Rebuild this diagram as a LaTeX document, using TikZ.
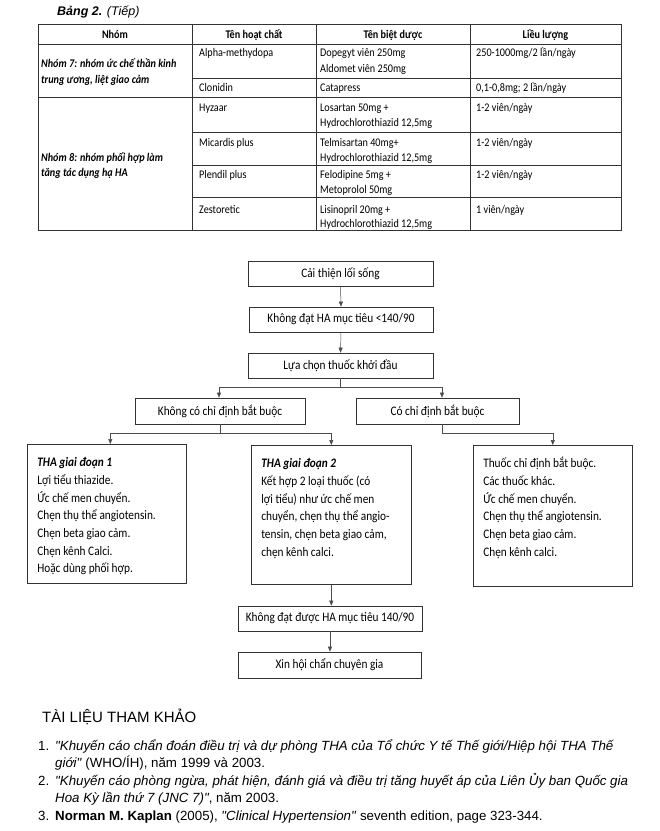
\documentclass[tikz,border=0pt]{standalone}
\usepackage{fontspec}
\setmainfont{Carlito}[FakeStretch=0.87]
\newfontfamily\refsfont{Liberation Sans}
\usetikzlibrary{arrows.meta,positioning}

\tikzset{
  tabtext/.style={anchor=base west,inner sep=0pt,font=\fontsize{11.7}{12}\selectfont},
  tabhead/.style={anchor=base,inner sep=0pt,font=\bfseries\fontsize{11.7}{12}\selectfont},
  tabgroup/.style={tabtext,font=\bfseries\itshape\fontsize{11.7}{12}\selectfont},
  tabrule/.style={draw=black!80,line width=0.7pt},
  flowbox/.style={draw=black!80,line width=0.6pt,inner sep=0pt,minimum height=25pt,font=\fontsize{13}{14}\selectfont},
  listbox/.style={draw=black!80,line width=0.6pt,anchor=north west,inner xsep=10pt,inner ysep=0pt,font=\fontsize{13}{17.7}\selectfont},
  conn/.style={draw=black!70,line width=0.5pt},
  arr/.style={conn,-{Triangle[length=5pt,width=4pt]}},
  reftext/.style={anchor=base west,inner sep=0pt,font=\refsfont\fontsize{13.3}{15}\selectfont},
}

\begin{document}
\begin{tikzpicture}[x=1pt,y=-1pt]
\useasboundingbox[fill=white] (0,0) rectangle (660,831);
% title
\node[reftext,font=\refsfont\fontsize{12.5}{15}\selectfont] (title) at (57,15.5) {\textbf{\textit{Bảng 2.}} \textit{(Tiếp)}};
% table
\draw[tabrule] (38,24) rectangle (621,230);
\draw[tabrule] (38,44) -- (621,44);
\draw[tabrule] (38,97) -- (621,97);
\draw[tabrule] (192,78) -- (621,78);
\draw[tabrule] (192,132) -- (621,132);
\draw[tabrule] (192,165) -- (621,165);
\draw[tabrule] (192,197) -- (621,197);
\draw[tabrule] (192,24) -- (192,230);
\draw[tabrule] (316,24) -- (316,230);
\draw[tabrule] (470,24) -- (470,230);
% header
\node[tabhead] (h1) at (115,38) {Nhóm};
\node[tabhead] (h2) at (254,38) {Tên hoạt chất};
\node[tabhead] (h3) at (393,38) {Tên biệt dược};
\node[tabhead] (h4) at (545.5,38) {Liều lượng};
% group 7
\node[tabgroup] (g7a) at (41,67) {Nhóm 7: nhóm ức chế thần kinh};
\node[tabgroup] (g7b) at (41,83.5) {trung ương, liệt giao cảm};
\node[tabtext] (c1) at (199,56.5) {Alpha-methydopa};
\node[tabtext] (b1a) at (320,56.5) {Dopegyt viên 250mg};
\node[tabtext] (b1b) at (320,72) {Aldomet viên 250mg};
\node[tabtext] (l1) at (476,56.5) {250-1000mg/2 lần/ngày};
\node[tabtext] (c2) at (199,91.5) {Clonidin};
\node[tabtext] (b2) at (320,91.5) {Catapress};
\node[tabtext] (l2) at (476,91.5) {0,1-0,8mg; 2 lần/ngày};
% group 8
\node[tabgroup] (g8a) at (41,161.5) {Nhóm 8: nhóm phối hợp làm};
\node[tabgroup] (g8b) at (41,176.5) {tăng tác dụng hạ HA};
\node[tabtext] (c3) at (199,111.5) {Hyzaar};
\node[tabtext] (b3a) at (320,111.5) {Losartan 50mg +};
\node[tabtext] (b3b) at (320,126.5) {Hydrochlorothiazid 12,5mg};
\node[tabtext] (l3) at (476,111.5) {1-2 viên/ngày};
\node[tabtext] (c4) at (199,146.5) {Micardis plus};
\node[tabtext] (b4a) at (320,146.5) {Telmisartan 40mg+};
\node[tabtext] (b4b) at (320,161) {Hydrochlorothiazid 12,5mg};
\node[tabtext] (l4) at (476,146.5) {1-2 viên/ngày};
\node[tabtext] (c5) at (199,178.5) {Plendil plus};
\node[tabtext] (b5a) at (320,178.5) {Felodipine 5mg +};
\node[tabtext] (b5b) at (320,193.5) {Metoprolol 50mg};
\node[tabtext] (l5) at (476,178.5) {1-2 viên/ngày};
\node[tabtext] (c6) at (199,213.5) {Zestoretic};
\node[tabtext] (b6a) at (320,213.5) {Lisinopril 20mg +};
\node[tabtext] (b6b) at (320,227) {Hydrochlorothiazid 12,5mg};
\node[tabtext] (l6) at (476,213.5) {1 viên/ngày};
% flow
\node[flowbox,minimum width=185pt] (lifestyle) at (340.5,273.5) {Cải thiện lối sống};
\node[flowbox,minimum width=184pt] (fail1) at (341,319.5) {Không đạt HA mục tiêu <140/90};
\node[flowbox,minimum width=185pt] (choice) at (340.5,365.5) {Lựa chọn thuốc khởi đầu};
\node[flowbox,minimum width=170pt,minimum height=26pt] (nocomp) at (220,411) {Không có chỉ định bắt buộc};
\node[flowbox,minimum width=163pt,minimum height=26pt] (comp) at (437.5,411) {Có chỉ định bắt buộc};
\node[listbox] (stage1) at (27,444) {\parbox[c][139pt][t]{139pt}{\raggedright\vspace*{10pt}\strut
  \textbf{\textit{THA giai đoạn 1}}\\
  Lợi tiểu thiazide.\\
  Ức chế men chuyển.\\
  Chẹn thụ thể angiotensin.\\
  Chẹn beta giao cảm.\\
  Chẹn kênh Calci.\\
  Hoặc dùng phối hợp.}};
\node[listbox] (stage2) at (251,445) {\parbox[c][139pt][t]{140pt}{\raggedright\vspace*{10pt}\strut
  \textbf{\textit{THA giai đoạn 2}}\\
  Kết hợp 2 loại thuốc (có\\
  lợi tiểu) như ức chế men\\
  chuyển, chẹn thụ thể angio-\\
  tensin, chẹn beta giao cảm,\\
  chẹn kênh calci.}};
\node[listbox] (compdrug) at (473,445) {\parbox[c][141pt][t]{139pt}{\raggedright\vspace*{10pt}\strut
  Thuốc chỉ định bắt buộc.\\
  Các thuốc khác.\\
  Ức chế men chuyển.\\
  Chẹn thụ thể angiotensin.\\
  Chẹn beta giao cảm.\\
  Chẹn kênh calci.}};
\node[flowbox,minimum width=184pt] (fail2) at (330,618.5) {Không đạt được HA mục tiêu 140/90};
\node[flowbox,minimum width=183pt,minimum height=26pt] (expert) at (329.5,665) {Xin hội chẩn chuyên gia};
% connectors
\draw[arr] (lifestyle.south) -- (fail1.north);
\draw[arr] (fail1.south) -- (choice.north);
\draw[conn] (choice.south) -- ++(0,9) coordinate (split1);
\draw[arr] (split1) -| ([xshift=-1pt]nocomp.north);
\draw[arr] (split1) -| ([xshift=4.5pt]comp.north);
\draw[conn] (nocomp.south) -- ++(0,9) coordinate (split2);
\draw[arr] (split2) -| ([xshift=3.5pt]stage1.north);
\draw[arr] (split2) -| (stage2.north);
\draw[conn] ([xshift=4.5pt]comp.south) -- ++(0,9) coordinate (split3);
\draw[arr] (split3) -| (compdrug.north);
\draw[arr] (stage2.south) -- (stage2.south |- fail2.north);
\draw[arr] (fail2.south) -- (fail2.south |- expert.north);
% references
\node[reftext,font=\refsfont\fontsize{15}{17}\selectfont] (refhead) at (42,722) {TÀI LIỆU THAM KHẢO};
\node[reftext] (r1n) at (38,750) {1.};
\node[reftext] (r1a) at (55,750) {\textit{"Khuyến cáo chẩn đoán điều trị và dự phòng THA của Tổ chức Y tế Thế giới/Hiệp hội THA Thế}};
\node[reftext] (r1b) at (55,767) {\textit{giới"} (WHO/ÍH), năm 1999 và 2003.};
\node[reftext] (r2n) at (38,785) {2.};
\node[reftext] (r2a) at (55,785) {\textit{"Khuyến cáo phòng ngừa, phát hiện, đánh giá và điều trị tăng huyết áp của Liên Ủy ban Quốc gia}};
\node[reftext] (r2b) at (55,802) {\textit{Hoa Kỳ lần thứ 7 (JNC 7)"}, năm 2003.};
\node[reftext] (r3n) at (38,820) {3.};
\node[reftext] (r3a) at (55,820) {\textbf{Norman M. Kaplan} (2005), \textit{"Clinical Hypertension"} seventh edition, page 323-344.};
\end{tikzpicture}
\end{document}
